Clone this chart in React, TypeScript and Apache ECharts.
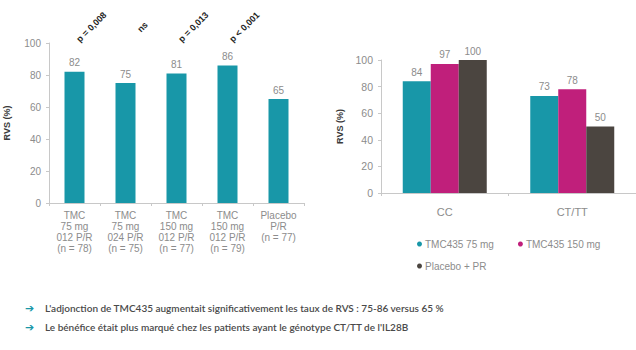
import React, { useEffect, useRef } from "react";
import * as echarts from "echarts";

// Left panel: RVS by treatment arm
const armLabels = [
  "TMC\n75 mg\n012 P/R\n(n = 78)",
  "TMC\n75 mg\n024 P/R\n(n = 75)",
  "TMC\n150 mg\n012 P/R\n(n = 77)",
  "TMC\n150 mg\n012 P/R\n(n = 79)",
  "Placebo\nP/R\n(n = 77)",
];
const armValues = [82, 75, 81, 86, 65];
const pValues = ["p = 0,008", "ns", "p = 0,013", "p < 0,001"];

// Right panel: RVS by IL28B genotype
const genotypes = ["CC", "CT/TT"];
const seriesNames = ["TMC435 75 mg", "TMC435 150 mg", "Placebo + PR"];
const tmc75 = [84, 73];
const tmc150 = [97, 78];
const placebo = [100, 50];

const yTicks = [0, 20, 40, 60, 80, 100];

const bullets = [
  "L'adjonction de TMC435 augmentait significativement les taux de RVS : 75-86 versus 65 %",
  "Le bénéfice était plus marqué chez les patients ayant le génotype CT/TT de l'IL28B",
];

const TEAL = "#1897a8";
const MAGENTA = "#c01f7b";
const DARK = "#4b4540";
const GRAY = "#8c8c8c";
const FONT = "Liberation Sans, Arial, sans-serif";

export default function App() {
  const ref = useRef<HTMLDivElement>(null);

  useEffect(() => {
    if (!ref.current) return;
    const chart = echarts.init(ref.current, null, { renderer: "svg" });

    const yAxisCommon = {
      type: "value" as const,
      min: yTicks[0],
      max: yTicks[yTicks.length - 1],
      interval: 20,
      splitLine: { show: false },
      axisLine: { show: true, lineStyle: { color: "#c8c8c8" } },
      axisTick: { show: true, length: 3, lineStyle: { color: "#c8c8c8" } },
      axisLabel: { color: GRAY, fontSize: 10, fontFamily: FONT, margin: 8 },
      nameLocation: "middle" as const,
      nameTextStyle: { color: "#3a3a3a", fontSize: 9, fontWeight: "bold" as const, fontFamily: FONT },
    };

    const rightSeries = [tmc75, tmc150, placebo].map((vals, i) => ({
      name: seriesNames[i],
      type: "bar" as const,
      xAxisIndex: 1,
      yAxisIndex: 1,
      barWidth: 28,
      barGap: "0%",
      data: vals,
      itemStyle: { color: [TEAL, MAGENTA, DARK][i] },
      label: {
        show: true,
        position: "top" as const,
        distance: 4,
        color: GRAY,
        fontSize: 10,
        fontFamily: FONT,
      },
    }));

    const legendText = { color: GRAY, fontSize: 10, fontFamily: FONT, padding: [0, 0, 0, -2] };

    chart.setOption({
      animation: false,
      backgroundColor: "#ffffff",
      grid: [
        { left: 49, top: 43, width: 255, height: 160 },
        { left: 381, top: 60, width: 258, height: 133 },
      ],
      xAxis: [
        {
          type: "category",
          gridIndex: 0,
          data: armLabels,
          axisLine: { lineStyle: { color: "#c8c8c8" } },
          axisTick: { show: true, length: 3, lineStyle: { color: "#c8c8c8" } },
          axisLabel: {
            color: GRAY,
            fontSize: 10,
            lineHeight: 11,
            fontFamily: FONT,
            margin: 7,
            interval: 0,
          },
        },
        {
          type: "category",
          gridIndex: 1,
          data: genotypes,
          axisLine: { lineStyle: { color: "#c8c8c8" } },
          axisTick: { show: true, length: 3, lineStyle: { color: "#c8c8c8" } },
          axisLabel: { color: GRAY, fontSize: 11, fontFamily: FONT, margin: 13 },
        },
      ],
      yAxis: [
        { ...yAxisCommon, gridIndex: 0, name: "RVS (%)", nameGap: 38 },
        {
          ...yAxisCommon,
          gridIndex: 1,
          name: "RVS (%)",
          nameGap: 37,
          axisLabel: { ...yAxisCommon.axisLabel, fontSize: 10.5 },
        },
      ],
      legend: [
        {
          data: seriesNames.slice(0, 2),
          left: 412,
          top: 234,
          orient: "horizontal",
          icon: "circle",
          itemWidth: 5,
          itemHeight: 5,
          itemGap: 24,
          textStyle: legendText,
        },
        {
          data: seriesNames.slice(2),
          left: 412,
          top: 256,
          icon: "circle",
          itemWidth: 5,
          itemHeight: 5,
          textStyle: legendText,
        },
      ],
      series: [
        {
          type: "bar",
          xAxisIndex: 0,
          yAxisIndex: 0,
          barWidth: 20,
          data: armValues,
          itemStyle: { color: TEAL },
          label: {
            show: true,
            position: "top",
            distance: 4,
            color: GRAY,
            fontSize: 10,
            fontFamily: FONT,
          },
        },
        ...rightSeries,
      ],
    });

    // significance annotations, anchored to the top of each arm's column
    const pTexts = pValues.map((p, i) => {
      const [px, py] = chart.convertToPixel({ gridIndex: 0 }, [i, 100]) as number[];
      return {
        type: "text",
        x: px + 17,
        y: py - 16,
        rotation: Math.PI / 4,
        style: {
          text: p,
          fill: "#1e1e1e",
          font: `bold 9px ${FONT}`,
          align: "center",
          verticalAlign: "middle",
        },
      };
    });

    const bulletTexts = bullets.flatMap((t, i) => [
      {
        type: "text",
        x: 25,
        y: 308 + i * 19,
        style: {
          text: "➔",
          fill: TEAL,
          font: "bold 11px DejaVu Sans",
          verticalAlign: "middle",
        },
      },
      {
        type: "text",
        x: 45,
        y: 308 + i * 19,
        style: {
          text: t,
          fill: "#4a4a4a",
          font: "600 10px Lato, sans-serif",
          verticalAlign: "middle",
        },
      },
    ]);

    chart.setOption({ graphic: [...pTexts, ...bulletTexts] });

    return () => chart.dispose();
  }, []);

  return (
    <div
      ref={ref}
      style={{ position: "fixed", left: 0, top: 0, width: 636, height: 350 }}
    />
  );
}
